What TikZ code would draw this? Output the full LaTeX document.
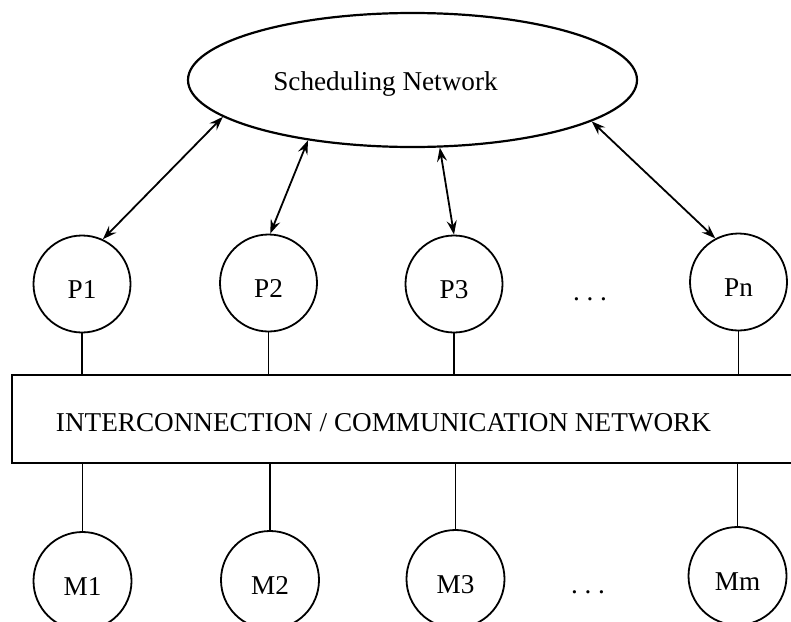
\documentclass[tikz,border=0pt]{standalone}
\usepackage{fontspec}
\setmainfont{Liberation Serif}
\usetikzlibrary{shapes.geometric,arrows.meta}
\begin{document}
\begin{tikzpicture}[x=0.5pt,y=-0.5pt,
  lbl/.style={font=\fontsize{13.6pt}{16pt}\selectfont},
  proc/.style={circle, draw, line width=0.9pt, minimum size=48.5pt, inner sep=0pt, lbl, text height=14pt, text depth=0pt},
  mem/.style={proc, minimum size=49pt},
  link/.style={line width=0.8pt},
  tip/.tip={Stealth[length=7pt,width=5pt,inset=2.5pt]},
  biarrow/.style={line width=0.9pt, tip-tip}
]
\useasboundingbox (0,0) rectangle (791,621);
\clip (0,0) rectangle (791,621);
\fill[white] (0,0) rectangle (791,621);

% scheduling network
\node[ellipse, draw, line width=1.1pt, minimum width=224.5pt, minimum height=67pt, inner sep=0pt] (sched) at (412.5,80) {};
\node[lbl, anchor=base] (schedtext) at (385.5,90) {Scheduling Network};

% processors
\node[proc] (P1) at (82,284) {P1};
\node[proc] (P2) at (268.5,283) {P2};
\node[proc] (P3) at (454,284) {P3};
\node[proc] (Pn) at (738.5,282) {Pn};
\node[lbl, anchor=base] (pdots) at (590,300) {.\ .\ .};

% interconnection network (runs off the right edge)
\node[draw, line width=1pt, minimum width=394pt, minimum height=44pt, inner sep=0pt] (net) at (406,419) {};
\node[lbl, anchor=base] (nettext) at (383.5,431) {INTERCONNECTION / COMMUNICATION NETWORK};

% memories
\node[mem] (M1) at (82.5,581) {M1};
\node[mem] (M2) at (270,580) {M2};
\node[mem] (M3) at (455.5,579) {M3};
\node[mem] (Mm) at (737.5,576) {Mm};
\node[lbl, anchor=base] (mdots) at (588,593) {.\ .\ .};

% scheduler <-> processors
\draw[biarrow] (sched.191.9) -- (P1.65.7);
\draw[biarrow] (sched.210) -- (P2.88);
\draw[biarrow] (sched.292) -- (P3.90);
\draw[biarrow] (sched.347) -- (Pn.118);

% processors to network
\foreach \p in {P1,P2,P3,Pn}
  \draw[link] (\p.south) -- (\p.south |- net.north);
% network to memories
\foreach \m in {M1,M2,M3,Mm}
  \draw[link] (net.south -| \m.north) -- (\m.north);
\end{tikzpicture}
\end{document}
